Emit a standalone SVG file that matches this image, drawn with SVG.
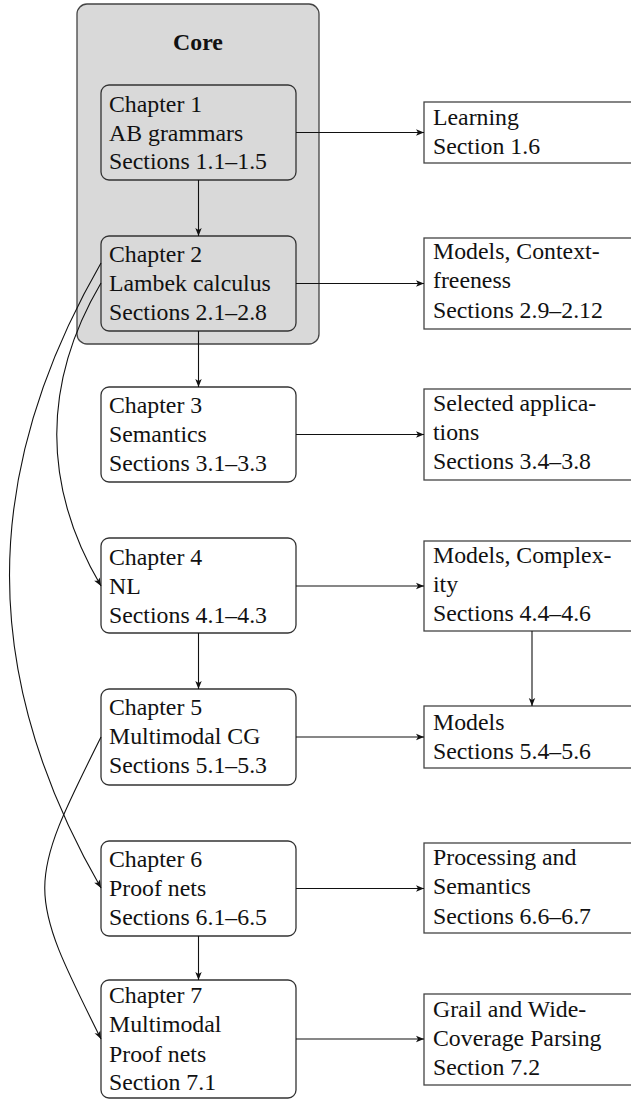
<svg xmlns="http://www.w3.org/2000/svg" width="631" height="1100" viewBox="0 0 631 1100">
<defs>
<marker id="arr" viewBox="-9 -4 10 8" refX="0" refY="0" markerWidth="10" markerHeight="8" markerUnits="userSpaceOnUse" orient="auto">
<path d="M0,0 L-8,-3.2 L-6,0 L-8,3.2 Z" fill="#111"/>
</marker>
</defs>
<style>
.t{font-family:"Liberation Serif","Times New Roman",serif;font-size:23.8px;fill:#111}
.b{font-weight:bold;text-anchor:middle}
.ch{fill:#fff;stroke:#333;stroke-width:1.3}
.chc{fill:#d9d9d9;stroke:#333;stroke-width:1.3}
.sec{fill:#fff;stroke:#444;stroke-width:1.3}
.c{fill:none;stroke:#111;stroke-width:1.1;marker-end:url(#arr)}
</style>
<rect width="631" height="1100" fill="#fff"/>
<g id="core">
<rect x="77" y="4" width="242" height="340" rx="10" fill="#d9d9d9" stroke="#444" stroke-width="1.3"/>
<text class="t b" x="198" y="50">Core</text>
</g>
<g id="ch1">
<rect class="chc" x="101" y="85" width="195" height="95" rx="8"/>
<text class="t" x="109" y="112">Chapter 1</text>
<text class="t" x="109" y="141">AB grammars</text>
<text class="t" x="109" y="169">Sections 1.1–1.5</text>
</g>
<g id="ch2">
<rect class="chc" x="101" y="236" width="195" height="95" rx="8"/>
<text class="t" x="109" y="262">Chapter 2</text>
<text class="t" x="109" y="291">Lambek calculus</text>
<text class="t" x="109" y="320">Sections 2.1–2.8</text>
</g>
<g id="ch3">
<rect class="ch" x="101" y="387" width="195" height="95" rx="8"/>
<text class="t" x="109" y="413">Chapter 3</text>
<text class="t" x="109" y="442">Semantics</text>
<text class="t" x="109" y="471">Sections 3.1–3.3</text>
</g>
<g id="ch4">
<rect class="ch" x="101" y="538" width="195" height="95" rx="8"/>
<text class="t" x="109" y="565">Chapter 4</text>
<text class="t" x="109" y="594">NL</text>
<text class="t" x="109" y="623">Sections 4.1–4.3</text>
</g>
<g id="ch5">
<rect class="ch" x="101" y="689" width="195" height="96" rx="8"/>
<text class="t" x="109" y="715">Chapter 5</text>
<text class="t" x="109" y="744">Multimodal CG</text>
<text class="t" x="109" y="773">Sections 5.1–5.3</text>
</g>
<g id="ch6">
<rect class="ch" x="101" y="841" width="195" height="95" rx="8"/>
<text class="t" x="109" y="867">Chapter 6</text>
<text class="t" x="109" y="896">Proof nets</text>
<text class="t" x="109" y="925">Sections 6.1–6.5</text>
</g>
<g id="ch7">
<rect class="ch" x="101" y="980" width="195" height="118" rx="8"/>
<text class="t" x="109" y="1003">Chapter 7</text>
<text class="t" x="109" y="1032">Multimodal</text>
<text class="t" x="109" y="1062">Proof nets</text>
<text class="t" x="109" y="1090">Section 7.1</text>
</g>
<g id="learning">
<rect class="sec" x="424" y="102" width="260" height="61"/>
<text class="t" x="433" y="125">Learning</text>
<text class="t" x="433" y="154">Section 1.6</text>
</g>
<g id="models-cf">
<rect class="sec" x="424" y="238" width="260" height="91"/>
<text class="t" x="433" y="259">Models, Context-</text>
<text class="t" x="433" y="288">freeness</text>
<text class="t" x="433" y="318">Sections 2.9–2.12</text>
</g>
<g id="selected">
<rect class="sec" x="424" y="389" width="260" height="91"/>
<text class="t" x="433" y="411">Selected applica-</text>
<text class="t" x="433" y="440">tions</text>
<text class="t" x="433" y="469">Sections 3.4–3.8</text>
</g>
<g id="models-cx">
<rect class="sec" x="424" y="541" width="260" height="90"/>
<text class="t" x="433" y="563">Models, Complex-</text>
<text class="t" x="433" y="592">ity</text>
<text class="t" x="433" y="621">Sections 4.4–4.6</text>
</g>
<g id="models">
<rect class="sec" x="424" y="706" width="260" height="62"/>
<text class="t" x="433" y="730">Models</text>
<text class="t" x="433" y="759">Sections 5.4–5.6</text>
</g>
<g id="processing">
<rect class="sec" x="424" y="843" width="260" height="90"/>
<text class="t" x="433" y="865">Processing and</text>
<text class="t" x="433" y="894">Semantics</text>
<text class="t" x="433" y="924">Sections 6.6–6.7</text>
</g>
<g id="grail">
<rect class="sec" x="424" y="994" width="260" height="91"/>
<text class="t" x="433" y="1017">Grail and Wide-</text>
<text class="t" x="433" y="1046">Coverage Parsing</text>
<text class="t" x="433" y="1075">Section 7.2</text>
</g>
<g id="connectors">
<path class="c" d="M198.5,180 L198.5,236"/>
<path class="c" d="M198.5,331 L198.5,387"/>
<path class="c" d="M198.5,633 L198.5,689"/>
<path class="c" d="M198.5,936 L198.5,980"/>
<path class="c" d="M532,631 L532,706"/>
<path class="c" d="M296,132.5 L424,132.5"/>
<path class="c" d="M296,283.5 L424,283.5"/>
<path class="c" d="M296,434.5 L424,434.5"/>
<path class="c" d="M296,586 L424,586"/>
<path class="c" d="M296,737 L424,737"/>
<path class="c" d="M296,888.5 L424,888.5"/>
<path class="c" d="M296,1039 L424,1039"/>
<path class="c" d="M101,283 C42,383 42,486 101,586"/>
<path class="c" d="M101,263 C-21,475 -21,676 101,888"/>
<path class="c" d="M101,737 C26,887 26,889 101,1039"/>
</g>
</svg>
